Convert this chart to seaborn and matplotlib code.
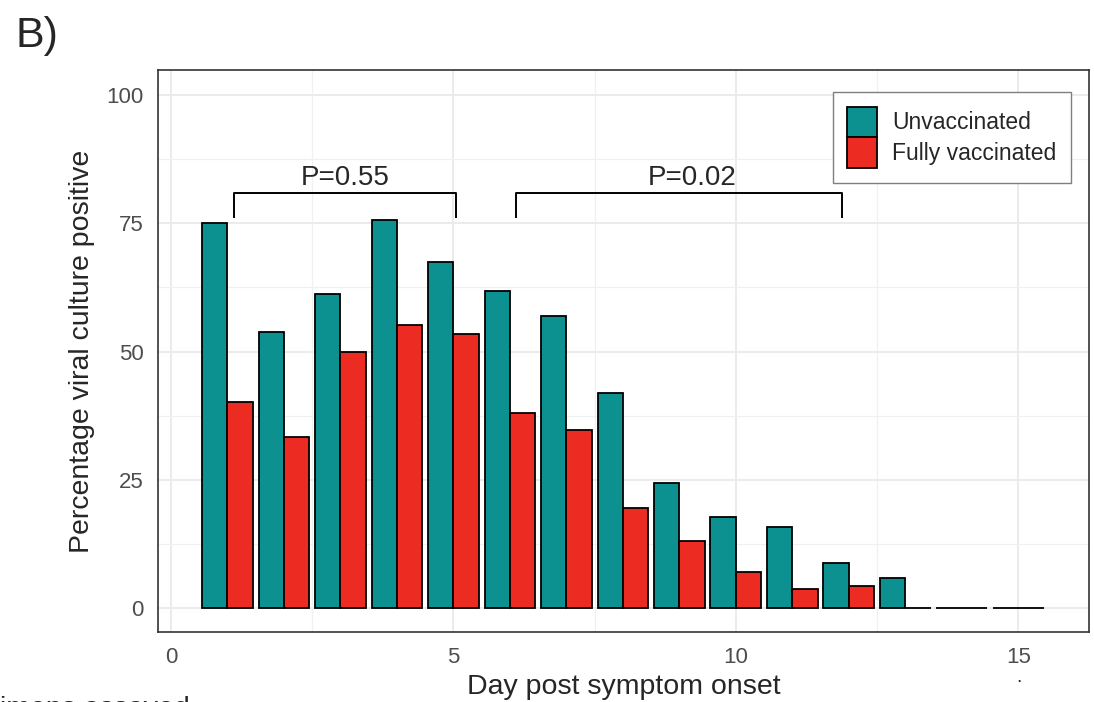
import numpy as np
import pandas as pd
import seaborn as sns
import matplotlib.pyplot as plt
from matplotlib.ticker import MultipleLocator

# percentage of specimens culture positive per day after symptom onset
days = list(range(1, 16))
unvaccinated = [75.0, 53.9, 61.3, 75.7, 67.5, 61.9, 57.0, 41.9, 24.4, 17.7, 15.7, 8.7, 5.8, 0.0, 0.0]
fully_vaccinated = [40.1, 33.4, 50.0, 55.1, 53.4, 38.0, 34.6, 19.5, 13.0, 7.0, 3.6, 4.2, 0.0, 0.0, 0.0]
groups = ['Unvaccinated', 'Fully vaccinated']
colors = {'Unvaccinated': '#0C9090', 'Fully vaccinated': '#EC2B23'}

# p-value brackets
bracket_starts = [1.12, 6.1]
bracket_ends = [5.05, 11.87]
bracket_text_x = [3.08, 9.22]
bracket_labels = ['P=0.55', 'P=0.02']
bracket_top = 81
bracket_tip = 76

df = pd.DataFrame({
    'day': days * 2,
    'pct': unvaccinated + fully_vaccinated,
    'status': [groups[0]] * len(days) + [groups[1]] * len(days),
})

sns.set_style('white')
plt.rcParams['font.family'] = ['Liberation Sans', 'DejaVu Sans']

W, H = 1094, 702
fig = plt.figure(figsize=(W / 100, H / 100), dpi=100)
ax = fig.add_axes([157.7 / W, 1 - 631.7 / H, (1089 - 157.7) / W, (631.7 - 70.3) / H])

sns.barplot(data=df, x='day', y='pct', hue='status', hue_order=groups,
            palette=colors, saturation=1, native_scale=True, width=0.9, gap=0,
            errorbar=None, edgecolor='black', linewidth=1.3, ax=ax)

# brackets with p-values
for x1, x2, tx, lab in zip(bracket_starts, bracket_ends, bracket_text_x, bracket_labels):
    ax.plot([x1, x1, x2, x2], [bracket_tip, bracket_top, bracket_top, bracket_tip],
            color='black', lw=1.4, solid_capstyle='butt')
    ax.text(tx, 82.6, lab, ha='center', va='baseline', fontsize=20)

ax.set_xlim(-0.235, 16.25)
ax.set_ylim(-4.7, 104.9)
ax.xaxis.set_major_locator(MultipleLocator(5))
ax.xaxis.set_minor_locator(MultipleLocator(2.5))
ax.yaxis.set_major_locator(MultipleLocator(25))
ax.yaxis.set_minor_locator(MultipleLocator(12.5))
ax.set_axisbelow(True)
ax.grid(which='major', color='#EBEBEB', lw=1.4)
ax.grid(which='minor', color='#F0F0F0', lw=0.9)
ax.tick_params(which='major', length=6, width=1.2, color='#333333',
               labelsize=16, labelcolor='#4D4D4D', pad=4)
ax.tick_params(which='minor', length=0)
ax.tick_params(axis='x', pad=5)
for sp in ax.spines.values():
    sp.set_color('#333333')
    sp.set_linewidth(1.2)

ax.set_xlabel('Day post symptom onset', fontsize=20.5, va='center')
ax.set_ylabel('Percentage viral culture positive', fontsize=20.5, va='center')
ax.xaxis.set_label_coords(0.5, (631.7 - 687) / (631.7 - 70.3))
ax.yaxis.set_label_coords((82 - 157.7) / (1089 - 157.7), 0.5)

handles, labels = ax.get_legend_handles_labels()
if ax.get_legend() is not None:
    ax.get_legend().remove()
leg = ax.legend(handles, labels, loc='upper right',
                bbox_to_anchor=(1070.8 / W, 1 - 92.3 / H), bbox_transform=fig.transFigure,
                frameon=True, fancybox=False, edgecolor='#7F7F7F', framealpha=1,
                borderpad=0.62, handlelength=1.32, handleheight=1.7,
                handletextpad=0.65, labelspacing=0, fontsize=16.5, borderaxespad=0)
leg.get_frame().set_linewidth(1.0)

fig.text(15.8 / W, 1 - 47 / H, 'B)', fontsize=31, va='baseline', ha='left')
fig.text(-65 / W, 1 - 695.5 / H, 'Specimens assayed', fontsize=20.5, va='top', ha='left')
fig.text(1019 / W, 1 - 682 / H, '.', fontsize=14, va='baseline', ha='center')

fig.savefig('out.png', dpi=100)
